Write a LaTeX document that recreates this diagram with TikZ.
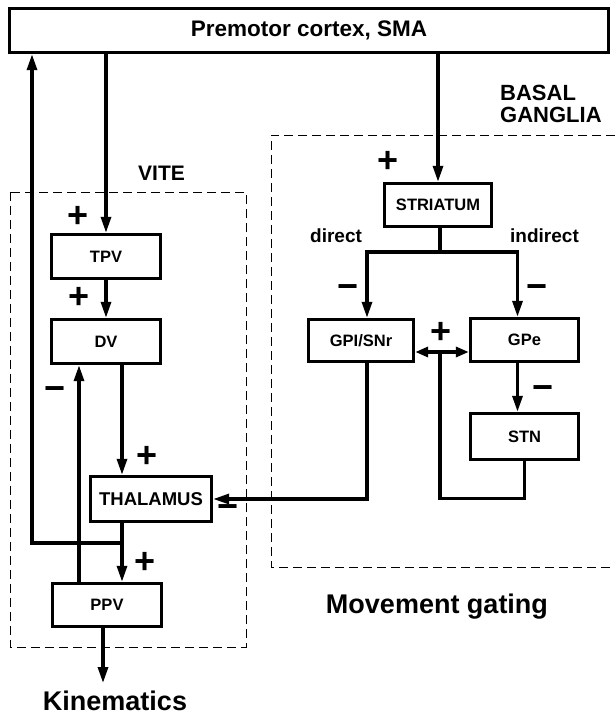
\documentclass[tikz,border=0pt]{standalone}
\usepackage{fontspec}
\setmainfont{Liberation Sans}
\usepackage{tikz}
\usetikzlibrary{arrows.meta}

\begin{document}
\begin{tikzpicture}[x=1pt, y=-1pt,
        blk/.style={draw, line width=3.4pt, inner sep=0pt, font=\bfseries\fontsize{16.5}{18}\selectfont},
        lnk/.style={line width=3.2pt},
        arr/.style={line width=3.2pt, -{Triangle[length=16pt,width=10pt]}},
        arrlr/.style={line width=3.2pt, {Triangle[length=13pt,width=10pt]}-{Triangle[length=13pt,width=10pt]}},
        zone/.style={line width=1pt, dash pattern=on 9pt off 5pt},
        sgn/.style={inner sep=0pt, font=\bfseries\fontsize{36}{36}\selectfont},
        lbl/.style={inner sep=0pt, font=\bfseries\fontsize{19}{21}\selectfont}]
        \useasboundingbox (0,0) rectangle (615,717);

        % Dashed regions
        \draw[zone] (10,192) rectangle (246,647);
        \draw[zone] (615,135) -- (271,135) -- (271,567) -- (615,567);

        % Boxes
        \node[blk, minimum width=599pt, minimum height=44pt, font=\bfseries\fontsize{22.5}{24}\selectfont] (pmc) at (309,30.5) {Premotor cortex, SMA};
        \node[blk, minimum width=109pt, minimum height=44pt] (tpv) at (106,256.5) {TPV};
        \node[blk, minimum width=109pt, minimum height=44pt] (dv) at (106,341.5) {DV};
        \node[blk, minimum width=121pt, minimum height=45pt, font=\bfseries\fontsize{18.5}{20}\selectfont] (thal) at (151,499) {THALAMUS};
        \node[blk, minimum width=109pt, minimum height=43pt] (ppv) at (107,605) {PPV};
        \node[blk, minimum width=107pt, minimum height=43pt] (str) at (438,205) {STRIATUM};
        \node[blk, minimum width=105pt, minimum height=42pt] (gpi) at (361,340.5) {GPI/SNr};
        \node[blk, minimum width=108pt, minimum height=43pt] (gpe) at (524.5,340) {GPe};
        \node[blk, minimum width=108pt, minimum height=46pt] (stn) at (524.5,436.5) {STN};

        % Labels
        \node[lbl, anchor=base west, font=\bfseries\fontsize{21}{23}\selectfont] (vite) at (138,180) {VITE};
        \node[lbl, anchor=base west, font=\bfseries\fontsize{22}{24}\selectfont] (bg1) at (500,100) {BASAL};
        \node[lbl, anchor=base west, font=\bfseries\fontsize{22}{24}\selectfont] (bg2) at (500,122) {GANGLIA};
        \node[lbl, anchor=base west] (dir) at (310,242) {direct};
        \node[lbl, anchor=base west] (ind) at (510,242) {indirect};
        \node[lbl, anchor=base, font=\bfseries\fontsize{27}{29}\selectfont] (kin) at (115,710) {Kinematics};
        \node[lbl, anchor=base, font=\bfseries\fontsize{27}{29}\selectfont] (gate) at (437,613) {Movement gating};

        % Signs
        \foreach \i/\x/\y in {1/78/217, 2/79/298, 3/147/457, 4/145/563, 5/388/162, 6/441/333}
            \node[sgn] (plus\i) at (\x,\y) {+};
        \foreach \i/\x/\y in {1/55/390, 2/228/508, 3/348/288, 4/537/288, 5/543/389}
            \node[sgn] (minus\i) at (\x,\y+4) {−};

        % VITE loop
        \coordinate (jn) at (122,543);
        \coordinate (out) at (103,683);
        \draw[arr] (jn) -- (jn -| 32,0) -- (pmc.south -| 32,0);
        \draw[arr] (pmc.south -| tpv.north) -- (tpv.north);
        \draw[arr] (tpv.south) -- (dv.north);
        \draw[arr] (dv.south -| jn) -- (thal.north -| jn);
        \draw[arr] (thal.south -| jn) -- (ppv.north -| jn);
        \draw[arr] ([xshift=-28pt]ppv.north) -- ([xshift=-28pt]ppv.north |- dv.south);
        \draw[arr] (ppv.south -| out) -- (out);

        % Basal ganglia
        \coordinate (br) at (440,252);
        \coordinate (jm) at (440,352);
        \draw[arr] (pmc.south -| str.north) -- (str.north);
        \draw[lnk] (str.south -| br) -- (br);
        \draw[arr] (br) -| ([xshift=6pt]gpi.north);
        \draw[arr] (br) -| ([xshift=-7pt]gpe.north);
        \draw[arr] ([xshift=-7pt]gpe.south) -- ([xshift=-7pt]gpe.south |- stn.north);
        \draw[arrlr] (gpi.east |- jm) -- (gpe.west |- jm);
        \draw[lnk] (stn.south) -- ++(0,37) -| (jm);
        \draw[arr] ([xshift=6pt]gpi.south) |- (thal.east);
\end{tikzpicture}
\end{document}
